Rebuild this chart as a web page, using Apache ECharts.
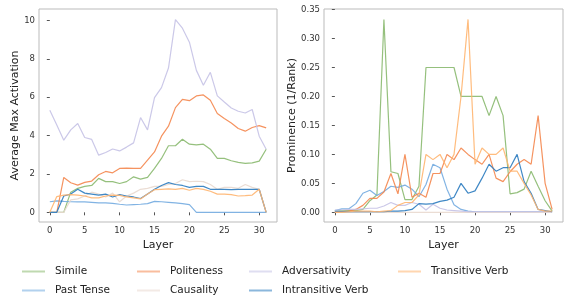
<!DOCTYPE html>
<html lang="en">
<head>
    <meta charset="UTF-8">
    <title>Activation and Prominence by Layer</title>
    <script src="https://cdn.jsdelivr.net/npm/echarts@6/dist/echarts.min.js"></script>
    <style>
        body, html { margin: 0; padding: 0; background: #fff; }
        #chart { width: 585px; height: 303px; }
    </style>
</head>
<body>
    <div id="chart"></div>
    <script>
        // layers 0..31
        var layers = [];
        for (var i = 0; i < 32; i++) layers.push(i);

        var names = ['Simile', 'Past Tense', 'Politeness', 'Causality', 'Adversativity', 'Intransitive Verb', 'Transitive Verb'];
        var colors = ['#8ab96f', '#73abe0', '#f4874f', '#e9d9cf', '#c5c2e6', '#2b7bbf', '#ffb570'];

        // left panel: average max activation
        var actSimile = [0, 0, 0, 1.05, 1.25, 1.35, 1.4, 1.77, 1.6, 1.6, 1.5, 1.6, 1.85, 1.73, 1.82, 2.29, 2.81, 3.47, 3.47, 3.81, 3.55, 3.52, 3.55, 3.29, 2.81, 2.81, 2.69, 2.6, 2.55, 2.58, 2.67, 3.29];
        var actPastTense = [0.55, 0.6, 0.57, 0.55, 0.54, 0.54, 0.52, 0.49, 0.49, 0.47, 0.42, 0.38, 0.4, 0.42, 0.45, 0.57, 0.55, 0.52, 0.49, 0.45, 0.4, 0, 0, 0, 0, 0, 0, 0, 0, 0, 0, 0];
        var actPoliteness = [0, 0, 1.82, 1.54, 1.42, 1.56, 1.63, 1.96, 2.13, 2.06, 2.29, 2.3, 2.29, 2.29, 2.72, 3.15, 3.97, 4.49, 5.46, 5.89, 5.82, 6.07, 6.12, 5.84, 5.15, 4.89, 4.66, 4.37, 4.23, 4.42, 4.52, 4.4];
        var actCausality = [0, 0, 0, 0.65, 0.7, 0.85, 1.05, 0.95, 0.8, 1.0, 0.55, 0.85, 1.0, 1.2, 1.25, 1.35, 1.35, 1.45, 1.5, 1.7, 1.6, 1.62, 1.6, 1.45, 1.2, 1.3, 1.3, 1.25, 1.45, 1.3, 1.2, 0];
        var actAdversativity = [5.32, 4.55, 3.76, 4.3, 4.63, 3.9, 3.8, 2.98, 3.12, 3.3, 3.2, 3.4, 3.62, 4.94, 4.3, 5.98, 6.5, 7.52, 10.05, 9.6, 8.87, 7.4, 6.62, 7.3, 6.07, 5.75, 5.44, 5.27, 5.18, 5.36, 3.97, 3.29];
        var actIntransitive = [0, 0, 0.85, 0.95, 1.2, 1.0, 0.95, 0.9, 0.95, 0.8, 0.92, 0.85, 0.8, 0.72, 0.95, 1.2, 1.4, 1.55, 1.45, 1.4, 1.3, 1.35, 1.35, 1.2, 1.2, 1.2, 1.18, 1.2, 1.2, 1.2, 1.2, 0];
        var actTransitive = [0, 0.82, 0.9, 0.92, 0.9, 0.85, 0.75, 0.75, 0.85, 0.9, 0.88, 0.8, 0.75, 0.7, 0.95, 1.18, 1.2, 1.22, 1.2, 1.25, 1.15, 1.25, 1.2, 1.1, 0.95, 0.95, 0.92, 0.85, 0.87, 0.9, 1.2, 0];

        // right panel: prominence (1/rank)
        var promSimile = [0.003, 0.003, 0.003, 0.003, 0.005, 0.02, 0.03, 0.333, 0.07, 0.067, 0.022, 0.022, 0.045, 0.25, 0.25, 0.25, 0.25, 0.25, 0.2, 0.2, 0.2, 0.2, 0.167, 0.2, 0.167, 0.032, 0.034, 0.04, 0.071, 0.045, 0.02, 0.002];
        var promPastTense = [0.003, 0.006, 0.006, 0.015, 0.033, 0.038, 0.029, 0.036, 0.045, 0.043, 0.047, 0.04, 0.027, 0.048, 0.083, 0.077, 0.04, 0.013, 0.005, 0.002, 0.001, 0.001, 0.001, 0.001, 0.001, 0.001, 0.001, 0.001, 0.001, 0.001, 0.001, 0.001];
        var promPoliteness = [0.001, 0.001, 0.002, 0.005, 0.012, 0.024, 0.024, 0.035, 0.067, 0.032, 0.1, 0.026, 0.033, 0.026, 0.067, 0.067, 0.1, 0.091, 0.111, 0.1, 0.091, 0.083, 0.1, 0.059, 0.053, 0.07, 0.083, 0.091, 0.083, 0.167, 0.05, 0.005];
        var promCausality = [0, 0, 0, 0, 0, 0, 0, 0, 0, 0, 0, 0, 0, 0, 0, 0, 0, 0, 0, 0, 0, 0, 0, 0, 0, 0, 0, 0, 0, 0, 0, 0];
        var promAdversativity = [0.004, 0.004, 0.005, 0.005, 0.006, 0.007, 0.007, 0.011, 0.017, 0.012, 0.012, 0.017, 0.014, 0.004, 0.014, 0.007, 0.004, 0.003, 0.002, 0.001, 0.001, 0.001, 0.001, 0.001, 0.001, 0.001, 0.001, 0.001, 0.001, 0.001, 0.001, 0.001];
        var promIntransitive = [0.001, 0.001, 0.001, 0.001, 0.001, 0.001, 0.001, 0.001, 0.002, 0.002, 0.003, 0.005, 0.015, 0.014, 0.015, 0.019, 0.021, 0.026, 0.05, 0.033, 0.037, 0.059, 0.083, 0.071, 0.077, 0.077, 0.1, 0.053, 0.033, 0.005, 0.003, 0.001];
        var promTransitive = [0, 0, 0.001, 0.002, 0.002, 0.002, 0.001, 0.002, 0.003, 0.012, 0.017, 0.017, 0.03, 0.1, 0.091, 0.1, 0.077, 0.1, 0.2, 0.333, 0.083, 0.111, 0.1, 0.1, 0.111, 0.071, 0.071, 0.05, 0.03, 0.005, 0.002, 0.002];

        var xTicks = [0, 5, 10, 15, 20, 25, 30];
        var leftTicks = [0, 2, 4, 6, 8, 10];
        var rightTicks = [0, 0.05, 0.1, 0.15, 0.2, 0.25, 0.3, 0.35];

        var actData = [actSimile, actPastTense, actPoliteness, actCausality, actAdversativity, actIntransitive, actTransitive];
        var promData = [promSimile, promPastTense, promPoliteness, promCausality, promAdversativity, promIntransitive, promTransitive];

        var font = 'DejaVu Sans';

        function pairs(arr) {
            return layers.map(function (l, k) { return [l, arr[k]]; });
        }

        function xAxis(gridIndex) {
            return {
                type: 'value', gridIndex: gridIndex, min: -1.55, max: 32.55,
                name: 'Layer', nameLocation: 'middle', nameGap: 10,
                nameTextStyle: { fontFamily: font, fontSize: 11, color: '#222' },
                axisLine: { show: false },
                splitLine: { show: false },
                axisTick: { show: true, length: 3, lineStyle: { color: '#555' }, customValues: xTicks },
                axisLabel: { fontFamily: font, fontSize: 8.5, color: '#333', margin: 4, customValues: xTicks }
            };
        }

        function yAxis(gridIndex, min, max, ticks, name, gap, fmt) {
            return {
                type: 'value', gridIndex: gridIndex, min: min, max: max,
                name: name, nameLocation: 'middle', nameGap: gap,
                nameTextStyle: { fontFamily: font, fontSize: 11, color: '#222' },
                axisLine: { show: false },
                splitLine: { show: false },
                axisTick: { show: true, length: 3, lineStyle: { color: '#555' }, customValues: ticks },
                axisLabel: { fontFamily: font, fontSize: 8.5, color: '#333', margin: 4, customValues: ticks, formatter: fmt }
            };
        }

        var series = [];
        names.forEach(function (n, k) {
            series.push({
                name: n, type: 'line', xAxisIndex: 0, yAxisIndex: 0,
                data: pairs(actData[k]), symbol: 'none', color: colors[k],
                lineStyle: { width: 1.2, opacity: 0.9 }, silent: true
            });
        });
        names.forEach(function (n, k) {
            series.push({
                name: n, type: 'line', xAxisIndex: 1, yAxisIndex: 1,
                data: pairs(promData[k]), symbol: 'none', color: colors[k],
                lineStyle: { width: 1.2, opacity: 0.9 }, silent: true
            });
        });

        // legend laid out in 4 columns, column-major like the original
        var colX = [22, 137, 249, 398];
        var rowY = [266, 285];
        var legends = names.map(function (n, k) {
            return {
                data: [n], left: colX[Math.floor(k / 2)], top: rowY[k % 2],
                padding: 0, itemWidth: 23, itemHeight: 2, icon: 'rect', selectedMode: false,
                itemStyle: { opacity: 0.55 },
                textStyle: { fontFamily: font, fontSize: 10.5, color: '#222', padding: [0, 0, 0, 5] }
            };
        });

        var option = {
            backgroundColor: '#fff',
            animation: false,
            legend: legends,
            grid: [
                { left: 39, top: 9, width: 238, height: 213, show: true, borderColor: '#bbb', borderWidth: 1, backgroundColor: 'transparent' },
                { left: 324, top: 9, width: 239, height: 213, show: true, borderColor: '#bbb', borderWidth: 1, backgroundColor: 'transparent' }
            ],
            xAxis: [xAxis(0), xAxis(1)],
            yAxis: [
                yAxis(0, -0.505, 10.6, leftTicks, 'Average Max Activation', 14, function (v) { return String(v); }),
                yAxis(1, -0.0167, 0.351, rightTicks, 'Prominence (1/Rank)', 21, function (v) { return v.toFixed(2); })
            ],
            series: series
        };

        var chart = echarts.init(document.getElementById('chart'));
        chart.setOption(option);
    </script>
</body>
</html>
